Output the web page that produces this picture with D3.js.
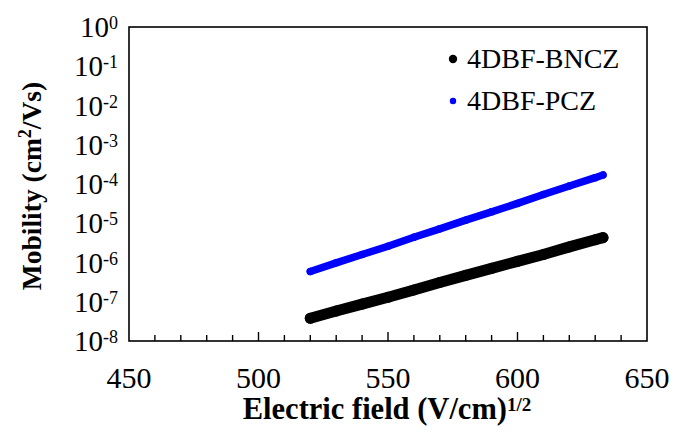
<!DOCTYPE html>
<html>
<head>
<meta charset="utf-8">
<script src="https://cdn.jsdelivr.net/npm/d3@7.9.0/dist/d3.min.js"></script>
<style>
  body { margin: 0; background: #fff; }
</style>
</head>
<body>
<svg id="chart" width="676" height="432"></svg>
<script>
// values
const fieldX = [520, 530, 540, 550, 560, 570, 580, 590, 600, 610, 620, 630, 633];
const bnczMobility = [3.8e-8, 5.8e-8, 8.7e-8, 1.3e-7, 2.0e-7, 3.1e-7, 4.7e-7, 7.1e-7, 1.07e-6, 1.6e-6, 2.5e-6, 3.8e-6, 4.3e-6];
const pczMobility = [5.9e-7, 9.8e-7, 1.6e-6, 2.6e-6, 4.4e-6, 7.2e-6, 1.2e-5, 1.95e-5, 3.2e-5, 5.4e-5, 8.9e-5, 1.45e-4, 1.7e-4];
const seriesNames = ['4DBF-BNCZ', '4DBF-PCZ'];
const seriesColors = ['#000000', '#0000ff'];
const xTickLabels = [450, 500, 550, 600, 650];
const yTickExponents = [0, -1, -2, -3, -4, -5, -6, -7, -8];

const font = 'Liberation Serif';
const svg = d3.select('#chart');
const plotLeft = 129, plotRight = 647, plotTop = 27, plotBottom = 341;

const x = d3.scaleLinear().domain([450, 650]).range([plotLeft, plotRight]);
const y = d3.scaleLog().domain([1e-8, 1]).range([plotBottom, plotTop]);

// frame
svg.append('rect')
  .attr('x', plotLeft).attr('y', plotTop)
  .attr('width', plotRight - plotLeft).attr('height', plotBottom - plotTop)
  .attr('fill', 'none').attr('stroke', '#000').attr('stroke-width', 1.6);

// x ticks pointing inward, minor every 10
const xAxis = svg.append('g');
d3.range(460, 650, 10).forEach((v) => {
  const major = v % 50 === 0;
  xAxis.append('line')
    .attr('x1', x(v)).attr('x2', x(v))
    .attr('y1', plotBottom).attr('y2', plotBottom - (major ? 9 : 6))
    .attr('stroke', '#000').attr('stroke-width', 1.4);
});
xTickLabels.forEach((v) => {
  xAxis.append('text')
    .attr('font-family', font)
    .attr('x', x(v)).attr('y', 388)
    .attr('text-anchor', 'middle')
    .attr('font-size', 30)
    .text(v);
});

// y tick labels 10^n
const yAxis = svg.append('g');
yTickExponents.forEach((e) => {
  const t = yAxis.append('text')
    .attr('font-family', font)
    .attr('x', 118).attr('y', y(Math.pow(10, e)) + 10)
    .attr('text-anchor', 'end')
    .attr('font-size', 29);
  t.append('tspan').text('10');
  t.append('tspan').attr('font-size', 18).attr('dy', -8).text(e);
});

// axis titles
const xt = svg.append('text')
  .attr('font-family', font)
  .attr('x', (plotLeft + plotRight) / 2 - 1).attr('y', 419)
  .attr('text-anchor', 'middle')
  .attr('font-size', 30.5).attr('font-weight', 'bold');
xt.append('tspan').text('Electric field (V/cm)');
xt.append('tspan').attr('font-size', 19).attr('dy', -8).text('1/2');

const yt = svg.append('text')
  .attr('font-family', font)
  .attr('transform', 'translate(41,186) rotate(-90)')
  .attr('text-anchor', 'middle')
  .attr('font-size', 27.5).attr('font-weight', 'bold');
yt.append('tspan').text('Mobility (cm');
yt.append('tspan').attr('font-size', 18).attr('dy', -10).text('2');
yt.append('tspan').attr('dy', 10).text('/Vs)');

// series
const series = [bnczMobility, pczMobility];
const widths = [11, 7.5];
const line = d3.line()
  .x((d, i) => x(fieldX[i]))
  .y((d) => y(d));

series.forEach((vals, s) => {
  svg.append('path')
    .attr('d', line(vals))
    .attr('fill', 'none')
    .attr('stroke', seriesColors[s])
    .attr('stroke-width', widths[s])
    .attr('stroke-linecap', 'round');
  svg.selectAll(null)
    .data(vals)
    .enter()
    .append('circle')
    .attr('cx', (d, i) => x(fieldX[i]))
    .attr('cy', (d) => y(d))
    .attr('r', widths[s] / 2)
    .attr('fill', seriesColors[s]);
});

// legend
const legend = svg.append('g');
const legendY = [59, 101];
const legendR = [4.2, 3.2];
seriesNames.forEach((name, i) => {
  legend.append('circle')
    .attr('cx', 453).attr('cy', legendY[i])
    .attr('r', legendR[i])
    .attr('fill', seriesColors[i]);
  legend.append('text')
    .attr('font-family', font)
    .attr('x', 467).attr('y', legendY[i] + 9)
    .attr('font-size', 28)
    .text(name);
});
</script>
</body>
</html>
